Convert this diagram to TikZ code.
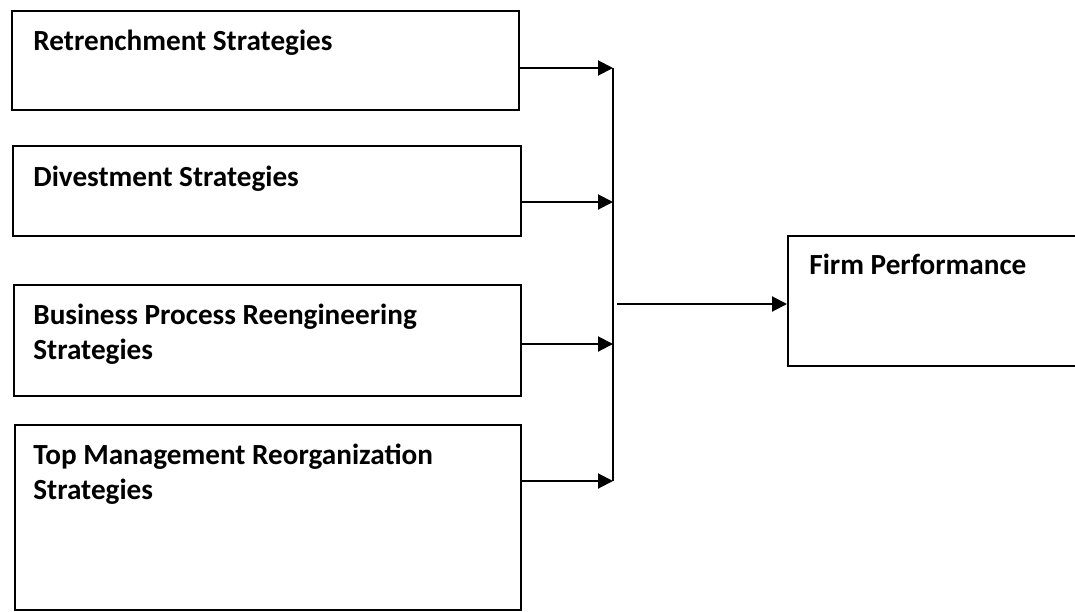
\documentclass[tikz,border=0pt]{standalone}
\usepackage{fontspec}
\setmainfont{Carlito}
\usetikzlibrary{arrows.meta,positioning}
\tikzset{
  >={Triangle[length=7.5pt,width=7.5pt]},
  font=\bfseries\fontsize{14.6}{17.5}\selectfont,
  box/.style={draw=black,line width=0.8pt,inner sep=0pt,anchor=north west},
  boxtext/.style={anchor=base west,inner sep=0pt,align=left},
  flow/.style={->,line width=1pt},
  bar/.style={line width=1pt},
}

\begin{document}
\begin{tikzpicture}[x=0.5pt,y=-0.5pt]
  \useasboundingbox (0,0) rectangle (1075,611);

  % strategy boxes on the left
  \node[box,minimum width=253.5pt,minimum height=49.5pt] (retr) at (11,10) {};
  \node[box,minimum width=254pt,minimum height=45pt] (dive) at (12,145) {};
  \node[box,minimum width=253.5pt,minimum height=55.5pt] (bpr) at (13,284) {};
  \node[box,minimum width=253pt,minimum height=92.5pt] (tmr) at (14,424) {};
  % outcome box, runs past the right edge
  \node[box,minimum width=149pt,minimum height=65pt] (firm) at (787,235) {};

  % base anchor of a two-line text sits on its last line
  \node[boxtext] (retrtxt) at (33,50) {Retrenchment Strategies};
  \node[boxtext] (divetxt) at (33,186) {Divestment Strategies};
  \node[boxtext] (bprtxt) at (33,359) {Business Process Reengineering\\Strategies};
  \node[boxtext] (tmrtxt) at (33,499) {Top Management Reorganization\\Strategies};
  \node[boxtext] (firmtxt) at (809,274) {Firm Performance};

  \coordinate (j1) at (613,68);
  \coordinate (j2) at (613,202);
  \coordinate (j3) at (613,344);
  \coordinate (j4) at (613,481);
  \coordinate (jm) at (617,304);

  \draw[flow] (retr.east |- j1) -- (j1);
  \draw[flow] (dive.east |- j2) -- (j2);
  \draw[flow] (bpr.east |- j3) -- (j3);
  \draw[flow] (tmr.east |- j4) -- (j4);
  \draw[bar] (j1) -- (j4);
  \draw[flow] (jm) -- (firm.west |- jm);
\end{tikzpicture}
\end{document}
